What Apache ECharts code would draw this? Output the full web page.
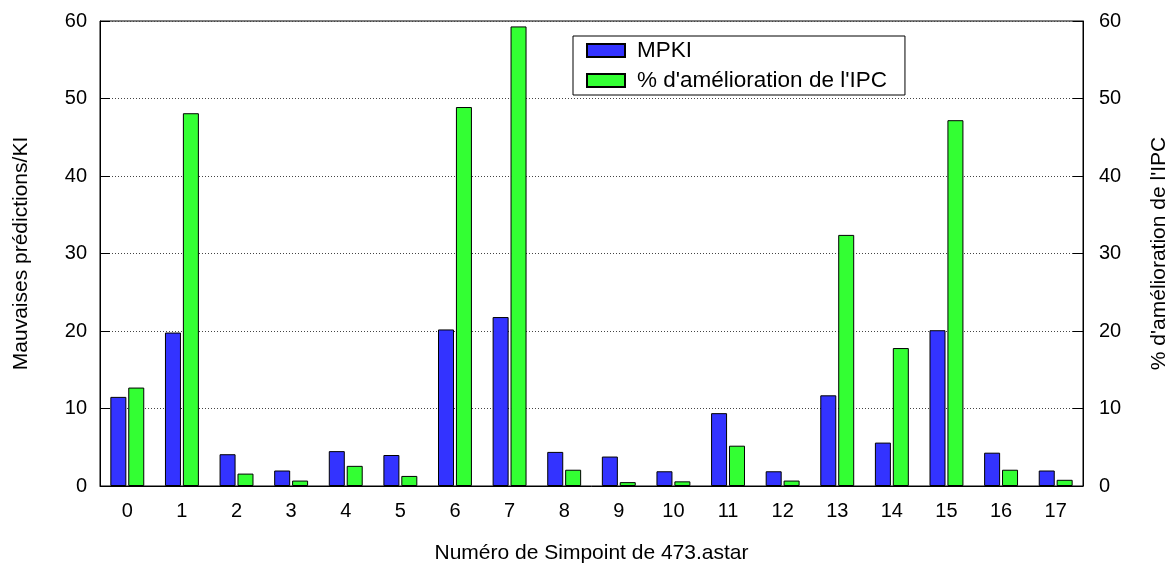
<!DOCTYPE html>
<html>
<head>
<meta charset="utf-8">
<script src="https://cdn.jsdelivr.net/npm/echarts@6/dist/echarts.min.js"></script>
<style>html,body{margin:0;padding:0;background:#fff;}#c{width:1172px;height:569px;}</style>
</head>
<body>
<div id="c"></div>
<script>
const categories = ['0','1','2','3','4','5','6','7','8','9','10','11','12','13','14','15','16','17'];
const mpki = [11.5, 19.8, 4.1, 2.0, 4.5, 4.0, 20.2, 21.8, 4.4, 3.8, 1.9, 9.4, 1.9, 11.7, 5.6, 20.1, 4.3, 2.0];
const ipcGain = [12.7, 48.1, 1.6, 0.7, 2.6, 1.3, 48.9, 59.3, 2.1, 0.5, 0.6, 5.2, 0.7, 32.4, 17.8, 47.2, 2.1, 0.8];
const yTicks = [0, 10, 20, 30, 40, 50, 60];

const font = 'Liberation Sans, Arial, sans-serif';
const chart = echarts.init(document.getElementById('c'), null, {renderer: 'canvas'});
chart.setOption({
  animation: false,
  backgroundColor: '#fff',
  textStyle: {fontFamily: font, color: '#000'},
  grid: {left: 100, right: 89, top: 21, bottom: 83, outerBoundsMode: 'none', containLabel: false,
    show: true, borderColor: '#000', borderWidth: 1, backgroundColor: 'transparent'},
  legend: {
    orient: 'vertical',
    left: 573, top: 36,
    padding: [3, 18, 3, 13],
    borderColor: '#000', borderWidth: 1,
    backgroundColor: '#fff',
    itemWidth: 38, itemHeight: 13, itemGap: 7,
    icon: 'rect',
    textStyle: {fontFamily: font, fontSize: 22.5, color: '#000', padding: [0, 0, 0, 7]},
    data: ['MPKI', "% d'amélioration de l'IPC"]
  },
  xAxis: [{
    type: 'category',
    data: categories,
    boundaryGap: true,
    name: 'Numéro de Simpoint de 473.astar',
    nameLocation: 'middle',
    nameGap: 57,
    nameTextStyle: {fontFamily: font, fontSize: 21, color: '#000'},
    axisLine: {lineStyle: {color: '#000', width: 1}},
    axisTick: {alignWithLabel: true, inside: false, length: 11, lineStyle: {color: '#444'}},
    axisLabel: {fontFamily: font, fontSize: 20, color: '#000', margin: 15},
    splitLine: {show: false}
  }, {
    type: 'category',
    data: categories,
    position: 'bottom',
    boundaryGap: true,
    axisLine: {show: false},
    axisTick: {alignWithLabel: true, inside: true, length: 10, lineStyle: {color: '#222'}},
    axisLabel: {show: false},
    splitLine: {show: false}
  }],
  yAxis: [{
    type: 'value',
    min: 0, max: 60, interval: 10,
    name: 'Mauvaises prédictions/KI',
    nameLocation: 'middle',
    nameRotate: 90,
    nameGap: 68,
    nameTextStyle: {fontFamily: font, fontSize: 21, color: '#000'},
    axisLine: {show: true, lineStyle: {color: '#000', width: 1}},
    axisTick: {show: true, inside: true, length: 10, lineStyle: {color: '#000'}},
    axisLabel: {fontFamily: font, fontSize: 20, color: '#000', margin: 13,
      formatter: v => yTicks.includes(v) ? String(v) : ''},
    splitLine: {show: true, lineStyle: {color: '#444', type: [1, 2], width: 1}}
  }, {
    type: 'value',
    min: 0, max: 60, interval: 10,
    position: 'right',
    name: "% d'amélioration de l'IPC",
    nameLocation: 'middle',
    nameRotate: 90,
    nameGap: 66,
    nameTextStyle: {fontFamily: font, fontSize: 21, color: '#000'},
    axisLine: {show: true, lineStyle: {color: '#000', width: 1}},
    axisTick: {show: true, inside: true, length: 10, lineStyle: {color: '#000'}},
    axisLabel: {fontFamily: font, fontSize: 20, color: '#000', margin: 16,
      formatter: v => yTicks.includes(v) ? String(v) : ''},
    splitLine: {show: false}
  }],
  series: [{
    name: 'MPKI',
    type: 'bar',
    xAxisIndex: 0, yAxisIndex: 0,
    data: mpki,
    barWidth: 16,
    barGap: '12%',
    itemStyle: {color: '#3333ff', borderColor: '#000', borderWidth: 1}
  }, {
    name: "% d'amélioration de l'IPC",
    type: 'bar',
    xAxisIndex: 0, yAxisIndex: 1,
    data: ipcGain,
    barWidth: 16,
    barGap: '12%',
    itemStyle: {color: '#33ff33', borderColor: '#000', borderWidth: 1}
  }]
});
</script>
</body>
</html>
